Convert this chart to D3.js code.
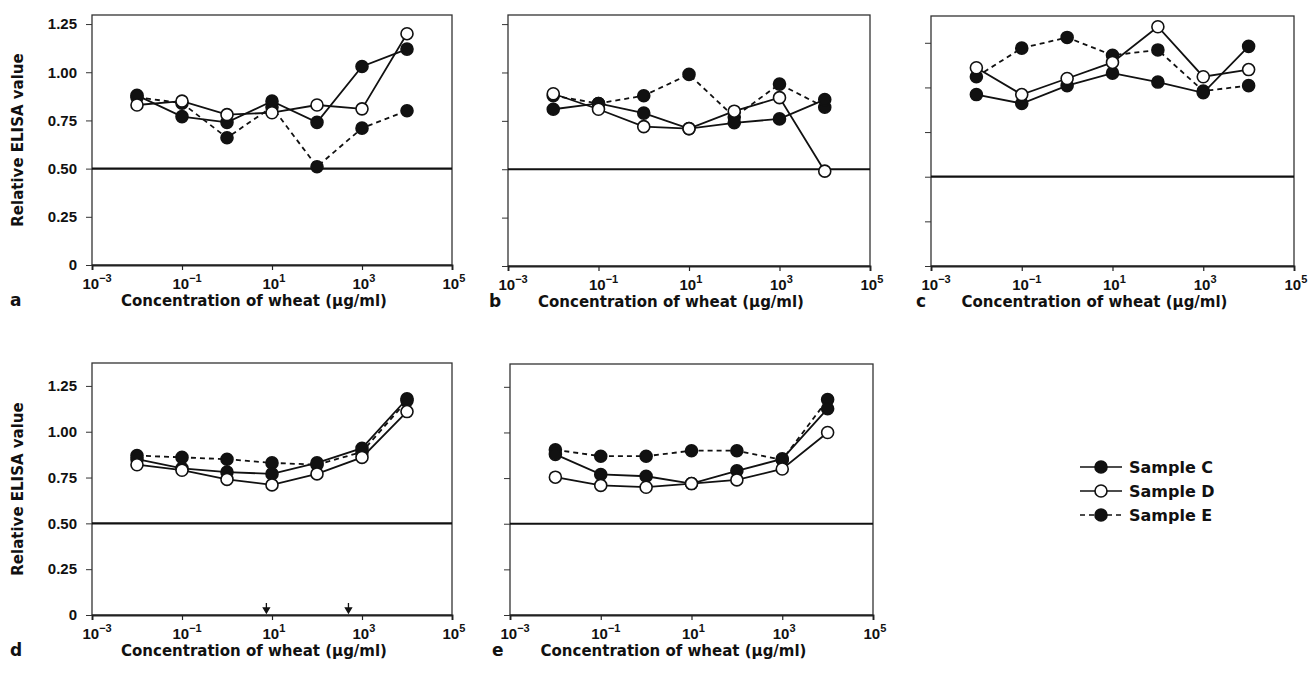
<!DOCTYPE html>
<html>
<head>
<meta charset="utf-8">
<script src="https://cdn.jsdelivr.net/npm/d3@7"></script>
<style>
  body { margin: 0; background: #fff; }
  svg { display: block; font-family: "DejaVu Sans", sans-serif; }
</style>
</head>
<body>
<div id="chart"></div>
<script>
// concentrations of wheat (µg/ml) where each sample was measured
const conc = [0.01, 0.1, 1, 10, 100, 1000, 10000];

// panel a
const aSampleC = [0.88, 0.77, 0.74, 0.85, 0.74, 1.03, 1.12];
const aSampleD = [0.83, 0.85, 0.78, 0.79, 0.83, 0.81, 1.20];
const aSampleE = [0.87, 0.84, 0.66, 0.82, 0.51, 0.71, 0.80];
// panel b
const bSampleC = [0.81, 0.84, 0.79, 0.71, 0.74, 0.76, 0.86];
const bSampleD = [0.89, 0.81, 0.72, 0.71, 0.80, 0.87, 0.49];
const bSampleE = [0.88, 0.84, 0.88, 0.99, 0.77, 0.94, 0.82];
// panel c
const cSampleC = [0.96, 0.91, 1.01, 1.08, 1.03, 0.97, 1.23];
const cSampleD = [1.11, 0.96, 1.05, 1.14, 1.34, 1.06, 1.10];
const cSampleE = [1.06, 1.22, 1.28, 1.18, 1.21, 0.98, 1.01];
// panel d
const dSampleC = [0.85, 0.80, 0.78, 0.77, 0.83, 0.91, 1.18];
const dSampleD = [0.82, 0.79, 0.74, 0.71, 0.77, 0.86, 1.11];
const dSampleE = [0.87, 0.86, 0.85, 0.83, 0.82, 0.89, 1.17];
// panel e
const eSampleC = [0.88, 0.77, 0.76, 0.72, 0.79, 0.855, 1.13];
const eSampleD = [0.755, 0.71, 0.70, 0.72, 0.74, 0.80, 1.00];
const eSampleE = [0.905, 0.87, 0.87, 0.90, 0.90, 0.85, 1.18];

// arrows under the curves of panel d
const dArrowConc = [7.5, 500];

const xTicks = [1e-3, 1e-1, 1e1, 1e3, 1e5];
const xTickExp = ["\u22123", "\u22121", "1", "3", "5"];
const yTicks = [0, 0.25, 0.5, 0.75, 1, 1.25];
const yTickLabels = ["0", "0.25", "0.50", "0.75", "1.00", "1.25"];
const seriesNames = ["Sample C", "Sample D", "Sample E"];
const refValue = 0.5;

const xTitle = "Concentration of wheat (\u00b5g/ml)";
const yTitle = "Relative ELISA value";

const width = 1315, height = 684;
const ink = "#111";

// frame of each panel on the page
const panels = [
  { letter: "a", x0: 92, x1: 452, y0: 15, y1: 265, yMax: 1.297, labels: true, letterX: 10, data: [aSampleC, aSampleD, aSampleE] },
  { letter: "b", x0: 508, x1: 870, y0: 15, y1: 266, yMax: 1.297, labels: false, letterX: 489, data: [bSampleC, bSampleD, bSampleE] },
  { letter: "c", x0: 931, x1: 1294, y0: 16, y1: 266, yMax: 1.40, labels: false, letterX: 916, data: [cSampleC, cSampleD, cSampleE] },
  { letter: "d", x0: 92, x1: 452, y0: 363, y1: 615, yMax: 1.375, labels: true, letterX: 10, data: [dSampleC, dSampleD, dSampleE], arrows: dArrowConc },
  { letter: "e", x0: 510, x1: 873, y0: 364, y1: 615, yMax: 1.375, labels: false, letterX: 492, data: [eSampleC, eSampleD, eSampleE] }
];

// style of each sample: C filled solid, D open solid, E filled dashed
const styles = [
  { fill: ink, dash: null },
  { fill: "#fff", dash: null },
  { fill: ink, dash: "5,4" }
];

const svg = d3.select("#chart").append("svg")
  .attr("width", width)
  .attr("height", height);

function drawPanel(p) {
  const xScale = d3.scaleLog().domain([1e-3, 1e5]).range([p.x0, p.x1]);
  const yScale = d3.scaleLinear().domain([0, p.yMax]).range([p.y1, p.y0]);

  const g = svg.append("g");

  // box around the plot
  g.append("rect")
    .attr("x", p.x0).attr("y", p.y0)
    .attr("width", p.x1 - p.x0).attr("height", p.y1 - p.y0)
    .attr("fill", "none")
    .attr("stroke", "#333")
    .attr("stroke-width", 1.3);

  // x axis
  const xAxis = d3.axisBottom(xScale).tickValues(xTicks).tickSize(5).tickFormat(() => "");
  const xg = g.append("g")
    .attr("transform", `translate(0, ${p.y1})`)
    .call(xAxis);
  xg.select(".domain").attr("stroke", "#222").attr("stroke-width", 1.8);
  xg.selectAll(".tick line").attr("stroke", "#222").attr("stroke-width", 1.2);
  xg.selectAll(".tick text").remove();
  xg.selectAll(".tick").each(function (d, i) {
    const t = d3.select(this).append("text")
      .attr("x", -10)
      .attr("y", 24)
      .attr("text-anchor", "start")
      .attr("fill", ink)
      .style("font-size", "15px")
      .style("font-weight", "bold");
    t.append("tspan").text("10");
    t.append("tspan").attr("dy", -7).style("font-size", "11px").text(xTickExp[i]);
  });

  // y axis
  const yAxis = d3.axisLeft(yScale).tickValues(yTicks).tickSize(6).tickPadding(9)
    .tickFormat((d, i) => (p.labels ? yTickLabels[i] : ""));
  const yg = g.append("g")
    .attr("transform", `translate(${p.x0}, 0)`)
    .call(yAxis);
  yg.select(".domain").remove();
  yg.selectAll(".tick line").attr("stroke", "#333");
  yg.selectAll(".tick text")
    .attr("fill", ink)
    .style("font-size", "15px")
    .style("font-weight", "bold");

  // 0.50 reference line
  g.append("line")
    .attr("x1", p.x0).attr("x2", p.x1)
    .attr("y1", yScale(refValue)).attr("y2", yScale(refValue))
    .attr("stroke", ink)
    .attr("stroke-width", 2.2);

  // series lines
  const line = d3.line()
    .x((d, i) => xScale(conc[i]))
    .y((d) => yScale(d));

  [2, 0, 1].forEach((s) => {
    g.append("path")
      .attr("d", line(p.data[s]))
      .attr("fill", "none")
      .attr("stroke", ink)
      .attr("stroke-width", 1.8)
      .attr("stroke-dasharray", styles[s].dash);
  });

  // markers
  [2, 0, 1].forEach((s) => {
    g.selectAll(null)
      .data(p.data[s])
      .enter()
      .append("circle")
      .attr("cx", (d, i) => xScale(conc[i]))
      .attr("cy", (d) => yScale(d))
      .attr("r", 6)
      .attr("fill", styles[s].fill)
      .attr("stroke", ink)
      .attr("stroke-width", 1.6);
  });

  // small arrows above the x axis
  if (p.arrows) {
    g.selectAll(null)
      .data(p.arrows)
      .enter()
      .append("path")
      .attr("d", (d) => {
        const x = xScale(d), y = yScale(0);
        return `M${x},${y - 12} L${x},${y - 6} M${x - 3},${y - 7} L${x},${y - 2} L${x + 3},${y - 7} Z`;
      })
      .attr("stroke", ink)
      .attr("stroke-width", 1.3)
      .attr("fill", ink);
  }

  // x title and panel letter
  g.append("text")
    .attr("x", (p.x0 + p.x1) / 2 - 18)
    .attr("y", p.y1 + 41)
    .attr("text-anchor", "middle")
    .attr("fill", ink)
    .style("font-size", "15px")
    .style("font-weight", "bold")
    .text(xTitle);

  g.append("text")
    .attr("x", p.letterX)
    .attr("y", p.y1 + 41)
    .attr("fill", ink)
    .style("font-size", "17px")
    .style("font-weight", "bold")
    .text(p.letter);

  // y title only on the left column
  if (p.labels) {
    g.append("text")
      .attr("transform", `translate(23, ${(p.y0 + p.y1) / 2}) rotate(-90)`)
      .attr("text-anchor", "middle")
      .attr("fill", ink)
      .style("font-size", "15px")
      .style("font-weight", "bold")
      .text(yTitle);
  }
}

panels.forEach(drawPanel);

// Legend
const legendX = 1080, legendY = [467, 491, 515];
const legend = svg.append("g");
seriesNames.forEach((name, s) => {
  legend.append("line")
    .attr("x1", legendX).attr("x2", legendX + 42)
    .attr("y1", legendY[s]).attr("y2", legendY[s])
    .attr("stroke", ink)
    .attr("stroke-width", 1.6)
    .attr("stroke-dasharray", styles[s].dash);
  legend.append("circle")
    .attr("cx", legendX + 21).attr("cy", legendY[s])
    .attr("r", 6)
    .attr("fill", styles[s].fill)
    .attr("stroke", ink)
    .attr("stroke-width", 1.6);
  legend.append("text")
    .attr("x", legendX + 49)
    .attr("y", legendY[s])
    .attr("dy", "0.36em")
    .attr("fill", ink)
    .style("font-size", "16px")
    .style("font-weight", "bold")
    .text(name);
});
</script>
</body>
</html>
